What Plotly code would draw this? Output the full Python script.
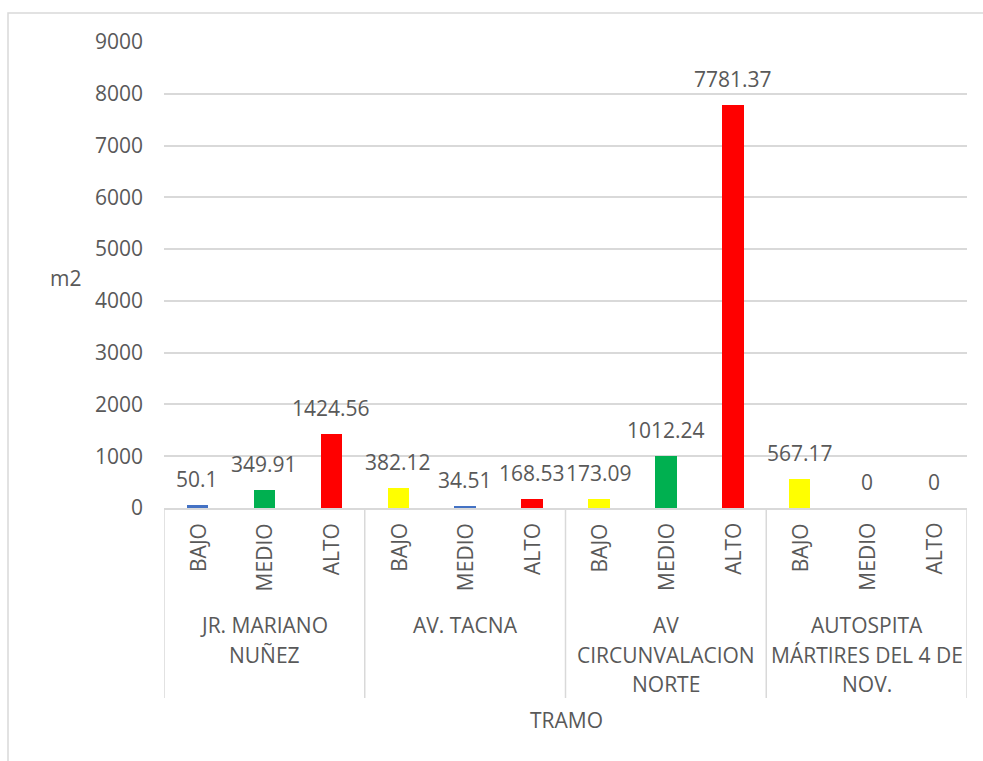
import plotly.graph_objects as go

# Data: surface (m2) by tramo and level
tramos = ["JR. MARIANO<br>NUÑEZ", "AV. TACNA", "AV<br>CIRCUNVALACION<br>NORTE",
          "AUTOSPITA<br>MÁRTIRES DEL 4 DE<br>NOV."]
niveles = ["BAJO", "MEDIO", "ALTO"]
valores = [50.1, 349.91, 1424.56,
           382.12, 34.51, 168.53,
           173.09, 1012.24, 7781.37,
           567.17, 0, 0]
colores = ["#4472C4", "#00B050", "#FF0000",
           "#FFFF00", "#4472C4", "#FF0000",
           "#FFFF00", "#00B050", "#FF0000",
           "#FFFF00", "#00B050", "#FF0000"]
y_ticks = [0, 1000, 2000, 3000, 4000, 5000, 6000, 7000, 8000, 9000]

FONT = "Open Sans"
TXT = "#595959"
LINE = "#D9D9D9"
FS = 21

L, R, T, B = 164, 16, 42, 253
W, H = 983, 761
PW = W - L - R
PH = H - T - B

n_niv = len(niveles)
xs = [i + 0.5 for i in range(len(valores))]
labels_x = [niveles[i % n_niv] for i in range(len(valores))]

fig = go.Figure()
fig.add_trace(go.Bar(x=xs, y=valores, width=0.32, marker=dict(color=colores, line_width=0),
                     hoverinfo="skip", showlegend=False))

font = dict(family=FONT, size=FS, color=TXT)
annotations = []
# value labels above each bar
for x, v in zip(xs, valores):
    annotations.append(dict(x=x, y=v, xref="x", yref="y", text=f"{v:g}", showarrow=False,
                            xanchor="center", yanchor="middle", yshift=26, font=font))
# rotated level labels
for x, lab in zip(xs, labels_x):
    annotations.append(dict(x=x, y=0, xref="x", yref="paper", text=lab, showarrow=False,
                            textangle=-90, xanchor="center", yanchor="top", yshift=-13, font=font))
# group labels, one line at a time
for g, name in enumerate(tramos):
    cx = g * n_niv + n_niv / 2
    for k, line in enumerate(name.split("<br>")):
        annotations.append(dict(x=cx, y=0, xref="x", yref="paper", text=line, showarrow=False,
                                xanchor="center", yanchor="middle", yshift=-117 - 29.5 * k,
                                font=font))
# axis titles
annotations.append(dict(x=(566 - L) / PW, y=0, xref="paper", yref="paper", text="TRAMO",
                        showarrow=False, xanchor="center", yanchor="middle", yshift=-212, font=font))
annotations.append(dict(x=(65 - L) / PW, y=(H - B - 278) / PH, xref="paper", yref="paper",
                        text="m2", showarrow=False, xanchor="center", yanchor="middle", font=font))

shapes = []
# group dividers below the axis
for g in range(len(tramos) + 1):
    shapes.append(dict(type="line", xref="x", yref="paper", x0=g * n_niv, x1=g * n_niv,
                       y0=0, y1=-(698 - (H - B)) / PH, line=dict(color=LINE, width=1.5)))
# chart area border
shapes.append(dict(type="rect", xref="paper", yref="paper", x0=(8 - L) / PW, x1=1.2,
                   y0=-1.0, y1=(H - B - 13) / PH, line=dict(color=LINE, width=1.5)))

fig.update_layout(
    width=W, height=H,
    margin=dict(l=L, r=R, t=T, b=B),
    paper_bgcolor="white", plot_bgcolor="white",
    xaxis=dict(range=[0, 12], showticklabels=False, showgrid=False, zeroline=False,
               showline=True, linecolor=LINE, linewidth=1.5, fixedrange=True),
    yaxis=dict(range=[0, 9000], tickvals=y_ticks, showgrid=True, gridcolor=LINE, gridwidth=1.5,
               zeroline=False, showline=False, ticks="", ticklabelstandoff=20,
               tickfont=font, fixedrange=True),
    annotations=annotations, shapes=shapes,
    bargap=0,
)

fig.write_html("out.html")
